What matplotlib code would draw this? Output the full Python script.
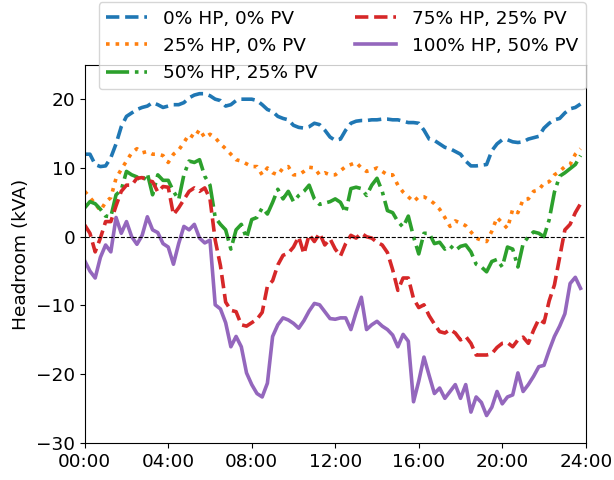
import matplotlib

matplotlib.use("Agg")
import matplotlib.pyplot as plt
import numpy as np

# 15-minute resolution headroom (kVA) over one day
hours = np.arange(96) * 0.25

hp0_pv0 = [
    12.0, 12.0, 10.5, 10.2, 10.3, 11.5, 13.5, 16.0,
    17.5, 18.0, 18.5, 18.8, 19.0, 19.5, 19.2, 18.8,
    19.0, 19.2, 19.2, 19.5, 20.2, 20.6, 20.8, 20.8,
    20.5, 20.0, 19.8, 19.0, 19.2, 19.8, 20.0, 20.0,
    20.0, 19.8, 19.2, 18.5, 18.2, 17.5, 17.2, 17.0,
    16.2, 15.9, 15.8, 16.0, 16.5, 16.3, 15.5, 14.5,
    14.0, 14.2, 15.5, 16.5, 16.8, 16.9, 16.9, 17.0,
    17.0, 17.1, 17.1, 17.0, 17.0, 16.8, 16.6, 16.6,
    16.5, 15.5, 14.2, 14.0, 13.5, 13.0, 12.8, 12.4,
    12.0, 11.0, 10.3, 10.3, 10.4, 10.5, 12.5, 13.5,
    14.1, 14.1, 13.8, 13.7, 13.8, 14.2, 14.4, 14.6,
    15.8, 16.5, 17.0, 17.2, 18.0, 18.6, 18.8, 19.3,
]
hp25_pv0 = [
    6.6, 5.7, 4.8, 3.8, 5.0, 5.7, 8.5, 9.8,
    11.0, 12.2, 12.8, 12.2, 12.4, 12.0, 12.0, 11.8,
    10.8, 12.0, 12.6, 13.7, 14.9, 14.4, 15.6, 14.4,
    14.9, 14.4, 13.5, 12.8, 12.0, 11.2, 11.0, 10.6,
    10.2, 10.2, 9.0, 10.0, 9.3, 9.0, 10.0, 10.2,
    9.0, 9.0, 9.5, 10.1, 10.0, 9.0, 9.3, 9.0,
    9.0, 9.6, 10.2, 10.5, 10.8, 10.0, 9.5, 9.7,
    10.0, 9.5, 9.0, 9.0, 7.5, 6.5, 5.8, 5.1,
    5.8, 5.8, 5.4, 4.8, 4.0, 2.8, 1.5, 2.3,
    2.0, 1.6, 0.7, -0.2, -0.5, -0.7, 0.8, 2.8,
    2.0, 1.2, 4.0, 3.5, 5.4, 5.5, 6.6, 6.8,
    7.8, 8.0, 9.0, 9.5, 10.2, 10.5, 12.0, 12.8,
]
hp50_pv25 = [
    4.2, 5.1, 4.8, 4.0, 3.0, 2.9, 6.1, 6.8,
    9.5, 9.0, 8.7, 8.0, 9.2, 6.1, 9.0, 8.2,
    8.2, 6.6, 5.4, 9.0, 11.0, 10.8, 11.2, 8.8,
    7.5, 2.8, 1.8, 1.0, -1.8, 1.0, 1.8, -0.2,
    2.5, 2.8, 4.2, 3.3, 5.0, 6.9, 5.5, 6.6,
    5.1, 6.0, 6.6, 7.5, 5.5, 4.7, 4.9, 5.1,
    5.5, 5.0, 3.5, 7.0, 7.2, 7.0, 6.0, 7.5,
    8.5, 6.6, 3.8, 3.5, 2.2, 1.4, 3.0, 0.0,
    -2.5, 0.5, 0.5, -1.0, -0.8, -1.8, -1.3, -2.0,
    -1.4, -1.2, -2.2, -4.0, -4.4, -5.1, -3.6, -3.3,
    -4.4, -1.5, -1.8, -4.4, -1.0, 0.0, 0.7, 0.5,
    0.0, 2.5, 6.5, 8.8, 9.3, 9.9, 10.5, 11.8,
]
hp75_pv25 = [
    1.7, 0.5, -2.2, -0.2, 2.2, 2.2, 4.5, 6.6,
    7.5, 7.5, 8.5, 8.6, 8.2, 8.0, 6.5, 7.3,
    7.2, 3.2, 4.2, 5.4, 6.6, 7.1, 6.6, 7.1,
    5.5, -0.5, -4.2, -9.5, -10.7, -10.9, -12.8, -13.0,
    -12.5, -12.0, -11.0, -7.2, -6.4, -4.1, -2.7, -2.4,
    -1.5, 0.0, -2.5, 0.3, -0.7, 0.5, -1.2, -0.3,
    -1.8, -2.8, -1.0, 0.2, -0.2, 0.5, 0.0, -0.2,
    -0.8, -1.2, -2.3, -4.8, -7.8, -6.0, -6.0, -9.0,
    -10.3, -9.9, -11.5, -12.7, -13.8, -14.0, -13.5, -14.0,
    -15.0, -14.5, -15.5, -17.2, -17.2, -17.2, -17.0, -16.1,
    -15.5, -15.4, -16.0, -15.0, -14.6, -15.5, -13.6, -12.0,
    -12.5, -9.3, -7.0, -3.0, 1.0, 1.8, 3.5, 4.8,
]
hp100_pv50 = [
    -3.5, -5.0, -6.0, -3.0, -1.2, -2.2, 2.8, 0.5,
    2.2, 0.0, -1.1, 0.2, 2.9, 1.0, 0.6, -1.0,
    -1.5, -4.0, -1.0, 1.5, 1.0, 1.8, -0.2, -0.9,
    -0.5, -9.9, -10.5, -12.5, -16.0, -14.5, -16.0, -19.8,
    -21.5, -22.8, -23.3, -21.3, -14.5, -12.8, -11.8, -12.1,
    -12.6, -13.3, -12.2, -10.8, -9.7, -9.9, -10.9, -11.9,
    -12.0, -11.8, -11.8, -13.5, -11.0, -8.8, -13.5, -12.8,
    -12.3, -13.0, -13.5, -14.3, -16.0, -14.2, -15.2, -24.0,
    -21.0, -17.5, -20.2, -22.8, -22.0, -23.5, -22.5, -21.5,
    -23.5, -21.5, -25.5, -23.3, -24.1, -26.0, -24.8, -22.5,
    -24.3, -23.3, -23.0, -19.8, -22.5, -21.5, -20.3, -18.9,
    -18.7, -16.5, -14.5, -13.0, -11.2, -6.8, -5.9, -7.5,
]

labels = ["0% HP, 0% PV", "25% HP, 0% PV", "50% HP, 25% PV",
          "75% HP, 25% PV", "100% HP, 50% PV"]
tick_hours = [0, 4, 8, 12, 16, 20, 24]
tick_labels = ["00:00", "04:00", "08:00", "12:00", "16:00", "20:00", "24:00"]

plt.rcParams["font.size"] = 13.3

fig = plt.figure(figsize=(6.14, 4.8), dpi=100)
ax = fig.add_axes([0.138, 0.077, 0.816, 0.788])

series = [hp0_pv0, hp25_pv0, hp50_pv25, hp75_pv25, hp100_pv50]
styles = [("tab:blue", "--"), ("tab:orange", ":"), ("tab:green", "-."),
          ("tab:red", "--"), ("tab:purple", "-")]
for vals, (c, ls), lab in zip(series, styles, labels):
    ax.plot(hours, vals, color=c, ls=ls, lw=2.6, label=lab)

ax.axhline(0, color="black", ls="--", lw=0.8)
ax.set_xlim(0, 24)
ax.set_ylim(-30, 25)
ax.set_yticks([-30, -20, -10, 0, 10, 20])
ax.set_xticks(tick_hours)
ax.set_xticklabels(tick_labels)
ax.set_ylabel("Headroom (kVA)")
ax.legend(ncol=2, loc="upper center", bbox_to_anchor=(0.514, 1.19),
          handlelength=2.2, handletextpad=0.9)

fig.savefig("out.png", dpi=100)
